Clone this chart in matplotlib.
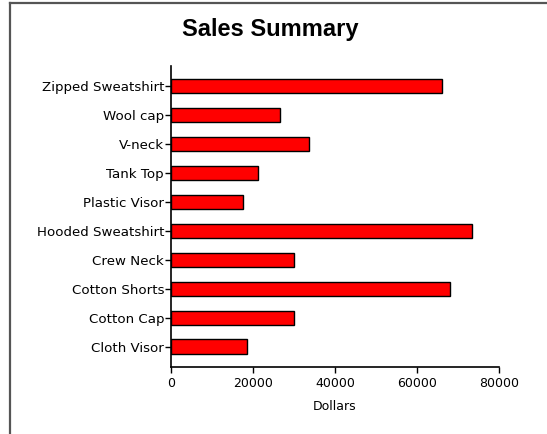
import matplotlib
matplotlib.use('Agg')
import matplotlib.pyplot as plt
from matplotlib.lines import Line2D

# Sales by product (top to bottom as shown)
products = ['Zipped Sweatshirt', 'Wool cap', 'V-neck', 'Tank Top', 'Plastic Visor',
            'Hooded Sweatshirt', 'Crew Neck', 'Cotton Shorts', 'Cotton Cap', 'Cloth Visor']
sales = [66100, 26700, 33600, 21200, 17600, 73400, 30000, 68000, 30000, 18600]
x_ticks = [0, 20000, 40000, 60000, 80000]

fig = plt.figure(figsize=(5.47, 4.34), dpi=100)
ax = fig.add_axes([0.3126, 0.1544, 0.5996, 0.6936])

ypos = list(range(len(products)))[::-1]
ax.barh(ypos, sales, height=0.5, color='#ff0000', edgecolor='black', linewidth=1.0)

ax.set_xlim(0, 80000)
ax.set_ylim(-0.7, 9.7)
ax.set_xticks(x_ticks)
ax.set_xticklabels([str(t) for t in x_ticks], fontsize=9)
ax.set_yticks(ypos)
ax.set_yticklabels(products, fontsize=9.6)
ax.tick_params(axis='y', length=4, width=1, pad=1)
ax.tick_params(axis='x', length=4.5, width=1, pad=3)
ax.set_xlabel('Dollars', fontsize=9, labelpad=7)

for s in ['top', 'right']:
    ax.spines[s].set_visible(False)
for s in ['left', 'bottom']:
    ax.spines[s].set_linewidth(1.2)

fig.text(0.494, 0.933, 'Sales Summary', ha='center', va='center',
         fontsize=17, fontweight='bold', family='Liberation Sans')

# frame lines on top and left of the picture
fig.add_artist(Line2D([10 / 547, 1], [1 - 3 / 434, 1 - 3 / 434], color='#555555', lw=1.6))
fig.add_artist(Line2D([10 / 547, 10 / 547], [0, 1 - 3 / 434], color='#555555', lw=1.6))

fig.savefig('out.png', dpi=100)
